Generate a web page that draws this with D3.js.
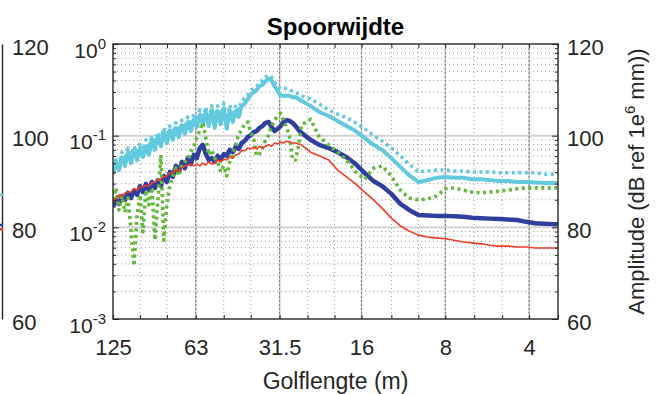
<!DOCTYPE html>
<html>
<head>
<meta charset='utf-8'>
<title>Spoorwijdte</title>
<script src='https://d3js.org/d3.v7.min.js'></script>
<style>
body { margin: 0; background: #fff; }
text { font-family: 'Liberation Sans', Arial, sans-serif; }
</style>
</head>
<body>
<div id='chart'></div>
<script>
// wavelength (m), dense at long wavelengths
var golflengte = [125, 121.9, 119.0, 116.1, 113.2, 110.4, 107.7, 105.1, 102.5, 100.0,
  97.6, 95.2, 92.9, 90.6, 88.4, 86.2, 84.1, 82.1, 80.1, 78.1,
  76.2, 74.3, 72.5, 70.7, 69.0, 67.3, 65.7, 64.1,
  62.5, 61.0, 59.5, 58.0, 56.6, 55.2, 53.9, 52.6, 51.3, 50.0,
  48.8, 47.6, 46.4, 45.3, 44.2, 43.1, 42.1, 41.0, 40.0, 39.0,
  38.1, 37.2, 36.3, 35.4, 34.5, 33.7, 32.8, 32.0,
  31.25, 30.5, 29.7, 29.0, 28.3, 27.6, 26.9, 26.3,
  24.4, 22.7, 21.0, 19.5, 18.1, 16.8, 15.6, 14.5, 13.5, 12.5,
  11.6, 10.8, 10.0, 9.29, 8.63, 8.01, 7.44, 6.90, 6.41, 5.95,
  5.52, 5.13, 4.76, 4.42, 4.10, 3.81, 3.54, 3.28, 3.15];

// amplitudes in dB ref 1e-6 mm
var cyaanLijn = [91.6, 94.3, 92.5, 95.3, 93.4, 96.4, 94.0, 96.9, 94.7, 97.3,
  95.3, 97.7, 95.8, 99.1, 96.9, 100.0, 97.7, 100.8, 98.4, 101.2,
  99.1, 101.7, 99.7, 102.3, 100.4, 103.0, 101.0, 103.6,
  101.9, 104.5, 102.5, 105.2, 102.1, 105.6, 101.7, 105.4, 102.5, 106.0,
  101.5, 105.6, 103.0, 105.4, 104.1, 106.5, 106.9, 108.0, 108.9, 109.5,
  110.0, 110.8, 111.1, 111.9, 112.4, 112.1, 110.8, 109.7,
  108.7, 108.7, 108.7, 108.7, 108.4, 108.4, 108.0, 107.6,
  106.5, 105.2, 104.3, 103.2, 102.1, 101.0, 99.5, 98.0, 96.9, 95.1,
  93.2, 91.4, 89.9, 90.3, 90.8, 91.0, 90.8, 90.8, 90.5, 90.5,
  90.3, 90.1, 90.1, 89.9, 89.9, 89.8, 89.7, 89.7, 89.7];

var cyaanStip = [92.9, 94.7, 93.6, 96.4, 94.7, 97.3, 95.1, 97.7, 96.4, 98.4,
  96.9, 99.1, 97.3, 100.0, 98.2, 100.8, 99.1, 101.7, 99.7, 102.1,
  100.4, 102.8, 101.0, 103.4, 101.7, 104.1, 102.3, 104.7,
  103.2, 105.6, 103.6, 106.3, 103.4, 106.5, 103.0, 106.5, 103.9, 107.1,
  103.0, 106.7, 104.3, 106.7, 105.6, 107.6, 108.2, 108.9, 109.7, 110.4,
  110.8, 111.7, 112.1, 112.8, 113.2, 112.8, 111.7, 110.8,
  110.2, 110.4, 110.2, 110.0, 109.7, 109.5, 109.1, 108.7,
  108.0, 106.9, 105.6, 104.7, 103.9, 102.8, 101.5, 100.1, 98.8, 97.3,
  95.6, 93.8, 92.1, 92.3, 92.5, 92.5, 92.3, 92.3, 92.1, 92.1,
  92.1, 91.9, 91.9, 91.9, 91.9, 91.9, 91.6, 91.6, 91.6];

var blauwLijn = [84.4, 86.0, 85.1, 86.8, 86.0, 87.5, 86.4, 88.1, 87.1, 89.0,
  87.7, 89.5, 88.1, 89.9, 88.6, 90.3, 89.0, 91.2, 89.9, 92.1,
  91.0, 93.4, 92.1, 94.3, 92.9, 95.1, 93.8, 95.8,
  95.1, 97.3, 98.0, 96.0, 94.7, 95.1, 94.3, 95.6, 94.7, 96.0,
  95.6, 96.9, 96.4, 97.5, 97.1, 98.4, 98.8, 99.7, 100.1, 100.8,
  101.0, 101.7, 102.1, 102.8, 103.0, 101.9, 101.0, 101.5,
  102.1, 103.0, 103.4, 103.2, 102.8, 102.1, 101.2, 100.6,
  99.1, 98.0, 97.3, 96.4, 95.3, 93.8, 91.9, 90.1, 89.0, 87.3,
  85.1, 83.8, 82.7, 82.6, 82.5, 82.5, 82.4, 82.3, 82.1, 82.0,
  81.9, 81.8, 81.7, 81.6, 81.2, 80.9, 80.8, 80.7, 80.7];

var groenStip = [86.0, 88.6, 83.8, 86.8, 83.3, 86.4, 79.4, 71.6, 82.7, 87.1,
  79.0, 88.1, 84.9, 88.6, 77.2, 86.0, 95.8, 77.2, 84.9, 89.2,
  91.2, 92.9, 91.2, 93.8, 94.3, 94.7, 96.4, 97.7,
  99.5, 101.2, 102.8, 99.5, 95.8, 96.9, 95.1, 94.3, 92.1, 93.4,
  91.2, 94.3, 96.4, 98.0, 100.4, 101.2, 102.5, 103.0, 100.8, 99.1,
  95.6, 96.0, 97.3, 99.1, 100.1, 102.1, 103.4, 104.3,
  104.9, 103.4, 101.7, 99.7, 94.7, 94.7, 98.0, 102.3,
  103.6, 99.7, 98.0, 96.4, 94.7, 92.1, 90.5, 92.9, 93.4, 91.2,
  88.1, 86.4, 86.0, 86.2, 86.8, 88.4, 88.6, 88.1, 87.7, 87.5,
  87.7, 87.9, 88.1, 88.4, 88.6, 88.6, 88.6, 88.6, 88.6];

var roodLijn = [85.5, 86.2, 87.1, 86.8, 87.5, 87.7, 87.7, 88.4, 88.1, 88.8,
  88.8, 89.2, 89.0, 89.7, 89.9, 90.3, 90.5, 91.0, 91.2, 91.9,
  91.9, 92.5, 92.3, 92.9, 93.4, 93.6, 93.8, 93.4,
  93.8, 93.4, 94.0, 93.6, 94.3, 93.8, 94.0, 94.7, 94.3, 94.9,
  94.7, 95.3, 95.1, 95.8, 96.0, 96.7, 96.7, 97.3, 97.1, 97.5,
  97.1, 97.7, 97.3, 97.7, 98.0, 97.7, 98.4, 98.2,
  98.6, 98.4, 98.8, 98.6, 98.4, 98.4, 98.2, 98.0,
  96.4, 95.6, 94.7, 92.5, 91.0, 89.5, 87.7, 86.0, 84.2, 82.0,
  80.3, 79.2, 78.3, 77.9, 77.7, 77.5, 77.2, 76.8, 76.6, 76.4,
  76.1, 75.9, 75.9, 75.7, 75.7, 75.5, 75.5, 75.5, 75.5];

// end values of the neighbouring panel, cut off at the left edge
var vorigPaneelDb = [87.1, 80.5, 79.6];

var xTicks = [125, 63, 31.5, 16, 8, 4];
var xTickLabels = ['125', '63', '31.5', '16', '8', '4'];
var tertsbanden = [125, 100, 80, 63, 50, 40, 31.5, 25, 20, 16, 12.5, 10, 8, 6.3, 5, 4, 3.15];
var yTicks = [1, 0.1, 0.01, 0.001];
var dbTicks = [60, 80, 100, 120];

var margin = {top: 44, right: 101, bottom: 75, left: 113},
    width = 659 - margin.left - margin.right,
    height = 394 - margin.top - margin.bottom;

var root = d3.select('#chart')
    .append('svg')
    .attr('width', width + margin.left + margin.right)
    .attr('height', height + margin.top + margin.bottom);

var svg = root.append('g')
    .attr('transform', 'translate(' + margin.left + ',' + margin.top + ')');

var x = d3.scaleLog().domain([125, 3.15]).range([0, width]);
var yAmp = d3.scaleLog().domain([1e-3, 1]).range([height, 0]);
var yDb = d3.scaleLinear().domain([60, 120]).range([height, 0]);

var minorY = [];
[-3, -2, -1].forEach(function(e) {
    for (var m = 2; m <= 9; m++) minorY.push(m * Math.pow(10, e));
});
var minorX = tertsbanden.filter(function(d) { return xTicks.indexOf(d) < 0 && d !== 3.15; });

// grid
svg.selectAll('hMinor')
    .data(minorY)
    .enter()
    .append('line')
    .attr('x1', 0).attr('x2', width)
    .attr('y1', yAmp).attr('y2', yAmp)
    .style('stroke', '#555').style('stroke-width', 1)
    .style('stroke-dasharray', '1,3').style('opacity', 0.55);

svg.selectAll('vMinor')
    .data(minorX)
    .enter()
    .append('line')
    .attr('y1', 0).attr('y2', height)
    .attr('x1', x).attr('x2', x)
    .style('stroke', '#555').style('stroke-width', 1)
    .style('stroke-dasharray', '1,3').style('opacity', 0.55);

svg.selectAll('hMajor')
    .data([0.1, 0.01])
    .enter()
    .append('line')
    .attr('x1', 0).attr('x2', width)
    .attr('y1', yAmp).attr('y2', yAmp)
    .style('stroke', '#d4d4d4').style('stroke-width', 2);

svg.selectAll('vMajor')
    .data(xTicks.slice(1))
    .enter()
    .append('line')
    .attr('y1', 0).attr('y2', height)
    .attr('x1', x).attr('x2', x)
    .style('stroke', '#c8c8c8').style('stroke-width', 1.5);

svg.selectAll('vMajorDots')
    .data(xTicks.slice(1))
    .enter()
    .append('line')
    .attr('y1', 0).attr('y2', height)
    .attr('x1', x).attr('x2', x)
    .style('stroke', '#444').style('stroke-width', 1)
    .style('stroke-dasharray', '2,2').style('opacity', 0.6);

// series
svg.append('clipPath').attr('id', 'clip')
    .append('rect').attr('width', width).attr('height', height);

var series = [
    {data: cyaanLijn, color: '#62cadf', width: 4, dash: null},
    {data: cyaanStip, color: '#62cadf', width: 3.5, dash: '3,3.5'},
    {data: blauwLijn, color: '#2e3f9e', width: 4.5, dash: null},
    {data: groenStip, color: '#64b93c', width: 3.6, dash: '3,3.5'},
    {data: roodLijn, color: '#ef3d27', width: 1.6, dash: null}
];

var line = d3.line()
    .x(function(d, i) { return x(golflengte[i]); })
    .y(function(d) { return yDb(d); });

svg.append('g').attr('clip-path', 'url(#clip)')
    .selectAll('path')
    .data(series)
    .enter()
    .append('path')
    .attr('d', function(s) { return line(s.data); })
    .style('fill', 'none')
    .style('stroke', function(s) { return s.color; })
    .style('stroke-width', function(s) { return s.width; })
    .style('stroke-dasharray', function(s) { return s.dash; })
    .style('stroke-linejoin', 'round');

// ticks
function noDomain(g) { g.select('.domain').remove(); g.selectAll('line').style('stroke', '#262626'); }

svg.append('g').attr('transform', 'translate(0,' + height + ')')
    .call(d3.axisBottom(x).tickValues(tertsbanden).tickSize(-4).tickFormat('')).call(noDomain);
svg.append('g')
    .call(d3.axisTop(x).tickValues(tertsbanden).tickSize(-4).tickFormat('')).call(noDomain);
svg.append('g')
    .call(d3.axisLeft(yAmp).tickValues(minorY).tickSize(-3).tickFormat('')).call(noDomain);
svg.append('g')
    .call(d3.axisLeft(yAmp).tickValues(yTicks).tickSize(-6).tickFormat('')).call(noDomain);
svg.append('g').attr('transform', 'translate(' + width + ',0)')
    .call(d3.axisRight(yAmp).tickValues(minorY).tickSize(-3).tickFormat('')).call(noDomain);
svg.append('g').attr('transform', 'translate(' + width + ',0)')
    .call(d3.axisRight(yAmp).tickValues(yTicks).tickSize(-6).tickFormat('')).call(noDomain);

// frame
svg.append('rect')
    .attr('width', width).attr('height', height)
    .style('fill', 'none').style('stroke', '#262626').style('stroke-width', 1.4);

// labels
var fontFam = "'Liberation Sans', Arial, sans-serif";

var xLab = svg.append('g').attr('transform', 'translate(0,' + height + ')')
    .call(d3.axisBottom(x).tickValues(xTicks)
        .tickFormat(function(d, i) { return xTickLabels[i]; })
        .tickSize(0).tickPadding(20))
    .attr('font-size', 22).attr('font-family', fontFam);
xLab.select('.domain').remove();
xLab.selectAll('text').style('fill', '#262626');

var yLab = svg.append('g')
    .call(d3.axisLeft(yAmp).tickValues(yTicks).tickFormat('').tickSize(0).tickPadding(7))
    .attr('font-size', 21).attr('font-family', fontFam);
yLab.select('.domain').remove();
yLab.selectAll('.tick text')
    .attr('dy', 13)
    .style('fill', '#262626')
    .each(function(d) {
        var t = d3.select(this);
        t.append('tspan').text('10');
        t.append('tspan').attr('dy', -9).attr('font-size', 15)
            .text(String(Math.round(Math.log10(d))));
    });

var dbLab = svg.append('g').attr('transform', 'translate(' + width + ',0)')
    .call(d3.axisRight(yDb).tickValues(dbTicks).tickSize(0).tickPadding(9))
    .attr('font-size', 22).attr('font-family', fontFam);
dbLab.select('.domain').remove();
dbLab.selectAll('text').attr('dy', 10).style('fill', '#262626');

// neighbouring panel edge
var prev = svg.append('g').attr('transform', 'translate(' + (2 - margin.left) + ',0)')
    .call(d3.axisRight(yDb).tickValues(dbTicks).tickSize(0).tickPadding(10))
    .attr('font-size', 22).attr('font-family', fontFam);
prev.select('.domain').style('stroke', '#262626').style('stroke-width', 1.4);
prev.selectAll('text').attr('dy', 10).style('fill', '#262626');

prev.selectAll('stub')
    .data(vorigPaneelDb)
    .enter()
    .append('line')
    .attr('x1', -2).attr('x2', 1)
    .attr('y1', yDb).attr('y2', yDb)
    .style('stroke', function(d, i) { return ['#62cadf', '#2e3f9e', '#ef3d27'][i]; })
    .style('stroke-width', 2.5);

// titles
svg.append('text')
    .attr('x', width / 2).attr('y', -9)
    .attr('text-anchor', 'middle')
    .attr('font-size', 24).attr('font-weight', 'bold')
    .style('fill', '#000')
    .text('Spoorwijdte');

svg.append('text')
    .attr('x', width / 2).attr('y', height + 70)
    .attr('text-anchor', 'middle')
    .attr('font-size', 23)
    .style('fill', '#262626')
    .text('Golflengte (m)');

var yt = svg.append('text')
    .attr('transform', 'translate(' + (width + 86) + ',' + (height / 2) + ') rotate(-90)')
    .attr('text-anchor', 'middle')
    .attr('font-size', 22)
    .style('fill', '#262626');
yt.append('tspan').text('Amplitude (dB ref 1e');
yt.append('tspan').attr('dy', -9).attr('font-size', 15).text('6');
yt.append('tspan').attr('dy', 9).text(' mm))');
</script>
</body>
</html>
